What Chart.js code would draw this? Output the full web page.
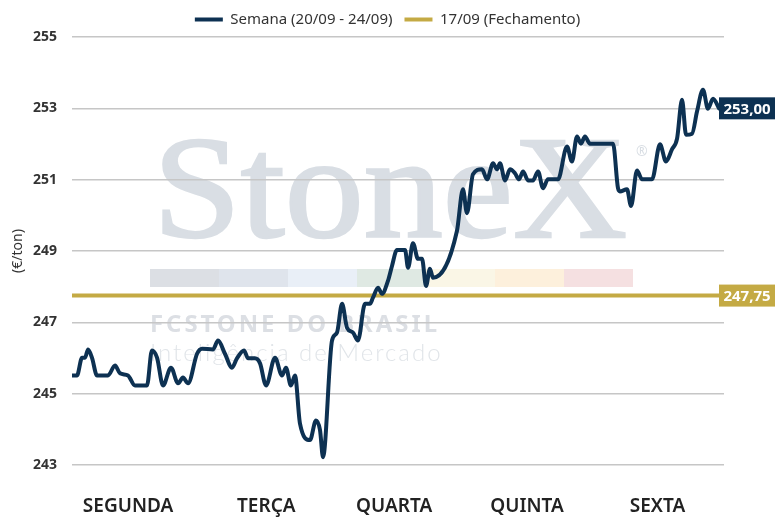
<!DOCTYPE html>
<html>
<head>
<meta charset="utf-8">
<script src="https://cdn.jsdelivr.net/npm/chart.js@4/dist/chart.umd.min.js"></script>
<style>
html, body { margin: 0; padding: 0; background: #fff; }
#wrap { width: 775px; height: 519px; }
</style>
</head>
<body>
<div id="wrap"><canvas id="grafico"></canvas></div>
<script>
// dias da semana no eixo x (posição em dias desde a abertura de segunda)
const dias = ["SEGUNDA", "TERÇA", "QUARTA", "QUINTA", "SEXTA"];
const posDias = [0.43, 1.49, 2.47, 3.49, 4.49];

// semana 20/09 - 24/09 (€/ton)
const semanaPos = [
    0.000, 0.038, 0.077, 0.100, 0.123, 0.153, 0.192, 0.276, 0.330, 0.368,
    0.429, 0.483, 0.575, 0.613, 0.652, 0.698, 0.759, 0.813, 0.851, 0.890,
    0.959, 0.997, 1.081, 1.120, 1.173, 1.227, 1.265, 1.319, 1.350, 1.403,
    1.442, 1.488, 1.557, 1.610, 1.641, 1.679, 1.710, 1.748, 1.825, 1.871,
    1.902, 1.925, 1.994, 2.032, 2.071, 2.109, 2.155, 2.193, 2.247, 2.285,
    2.308, 2.347, 2.377, 2.423, 2.454, 2.492, 2.554, 2.577, 2.615, 2.653,
    2.684, 2.715, 2.745, 2.768, 2.952, 2.998, 3.029, 3.075, 3.144, 3.183,
    3.229, 3.259, 3.282, 3.321, 3.359, 3.397, 3.428, 3.459, 3.497, 3.535,
    3.574, 3.612, 3.650, 3.727, 3.796, 3.834, 3.873, 3.903, 3.934, 3.972,
    4.149, 4.187, 4.202, 4.256, 4.287, 4.333, 4.371, 4.448, 4.509, 4.555,
    4.601, 4.640, 4.678, 4.709, 4.755, 4.793, 4.839, 4.877, 4.916, 4.962
];
const semanaValores = [
    245.51, 245.51, 246.01, 246.01, 246.24, 246.01, 245.51, 245.51, 245.79, 245.57,
    245.51, 245.23, 245.23, 246.21, 246.01, 245.23, 245.73, 245.29, 245.45, 245.29,
    246.12, 246.26, 246.24, 246.49, 246.12, 245.73, 245.99, 246.21, 245.99, 245.99,
    245.85, 245.23, 246.01, 245.51, 245.73, 245.23, 245.51, 244.17, 243.70, 244.25,
    243.98, 243.22, 246.49, 246.71, 247.52, 246.85, 246.71, 246.49, 247.52, 247.52,
    247.69, 247.97, 247.80, 248.16, 248.58, 249.03, 249.03, 248.53, 249.22, 248.78,
    248.78, 248.02, 248.50, 248.25, 249.56, 250.73, 250.06, 251.15, 251.29, 251.01,
    251.46, 251.29, 251.46, 250.98, 251.29, 251.18, 251.01, 251.23, 250.98, 250.98,
    251.23, 250.76, 251.01, 251.01, 251.93, 251.51, 252.21, 252.01, 252.21, 252.01,
    252.01, 250.76, 250.67, 250.73, 250.26, 251.26, 251.01, 251.01, 251.99, 251.51,
    251.85, 252.15, 253.24, 252.26, 252.29, 252.91, 253.52, 252.99, 253.27, 253.00
];

// fechamento 17/09
const fechamento = 247.75;

const corSemana = "#0d3152";
const corFechamento = "#c4aa44";

// marca d'agua
const faixaCores = ["#dcdfe4", "#dfe4ec", "#e9eff7", "#dfe9e3", "#faf6e6", "#fdf0dc", "#f5e0e1"];

const marcaDagua = {
    id: "marcaDagua",
    beforeDraw(chart) {
        const ctx = chart.ctx;
        ctx.save();
        ctx.fillStyle = "#fff";
        ctx.fillRect(0, 0, chart.width, chart.height);

        ctx.fillStyle = "#d9dee4";
        ctx.strokeStyle = "#d9dee4";
        ctx.lineWidth = 2.5;
        ctx.font = '146px "Liberation Serif"';
        ctx.textBaseline = "alphabetic";
        const w = ctx.measureText("StoneX").width;
        ctx.save();
        ctx.translate(153, 237);
        ctx.scale(474 / w, 1);
        ctx.fillText("StoneX", 0, 0);
        ctx.strokeText("StoneX", 0, 0);
        ctx.restore();
        ctx.font = '14px "Noto Sans"';
        ctx.fillText("®", 636, 156);

        for (let i = 0; i < faixaCores.length; i++) {
            ctx.fillStyle = faixaCores[i];
            ctx.fillRect(150 + i * 69, 269, 69, 18);
        }

        ctx.fillStyle = "#dcdfe4";
        ctx.font = 'bold 24px "Noto Sans"';
        ctx.letterSpacing = "3px";
        ctx.fillText("FCSTONE DO BRASIL", 150, 332, 290);
        ctx.letterSpacing = "2px";
        ctx.fillStyle = "#e1e5e9";
        ctx.font = '300 24px Lato';
        ctx.fillText("Inteligência de Mercado", 150, 361, 298);
        ctx.letterSpacing = "0px";
        ctx.restore();
    }
};

// caixinha com o ultimo valor de cada serie
const rotuloFinal = {
    id: "rotuloFinal",
    afterDatasetsDraw(chart) {
        const ctx = chart.ctx;
        chart.data.datasets.forEach(function(ds, i) {
            const meta = chart.getDatasetMeta(i);
            const ultimo = meta.data[meta.data.length - 1];
            const valor = ds.data[ds.data.length - 1].y;
            const x = chart.chartArea.right - 5;
            const w = chart.width - x;
            ctx.save();
            ctx.fillStyle = ds.borderColor;
            ctx.fillRect(x, ultimo.y - 11, w, 22);
            ctx.fillStyle = "#fff";
            ctx.font = 'bold 15px "Noto Sans"';
            ctx.textAlign = "center";
            ctx.textBaseline = "middle";
            ctx.fillText(valor.toFixed(2).replace(".", ","), x + w / 2, ultimo.y + 1);
            ctx.restore();
        });
    }
};

new Chart(document.getElementById("grafico"), {
    type: "line",
    data: {
        datasets: [
            {
                label: "Semana (20/09 - 24/09)",
                data: semanaPos.map((x, i) => ({ x: x, y: semanaValores[i] })),
                borderColor: corSemana,
                backgroundColor: corSemana,
                borderWidth: 4,
                pointRadius: 0,
                cubicInterpolationMode: "monotone",
                borderCapStyle: "round",
                borderJoinStyle: "round"
            },
            {
                label: "17/09 (Fechamento)",
                data: [{ x: 0, y: fechamento }, { x: 5, y: fechamento }],
                borderColor: corFechamento,
                backgroundColor: corFechamento,
                borderWidth: 4,
                pointRadius: 0
            }
        ]
    },
    options: {
        responsive: true,
        maintainAspectRatio: false,
        animation: false,
        layout: { padding: { top: 0, left: 0, right: 0, bottom: 0 } },
        plugins: {
            legend: {
                position: "top",
                labels: {
                    usePointStyle: true,
                    pointStyle: "line",
                    pointStyleWidth: 28,
                    color: "#333",
                    font: { family: "Noto Sans", size: 15 },
                    padding: 12
                }
            },
            tooltip: { enabled: false }
        },
        scales: {
            x: {
                type: "linear",
                min: 0,
                max: 5,
                grid: { display: false },
                border: { display: false },
                afterBuildTicks: function(s) {
                    s.ticks = posDias.map(v => ({ value: v }));
                },
                afterFit: function(s) { s.height = 54; },
                ticks: {
                    autoSkip: false,
                    maxRotation: 0,
                    padding: 22,
                    color: "#222",
                    font: { family: "Noto Sans", size: 19, weight: "600" },
                    callback: function(v, i) { return dias[i]; }
                }
            },
            y: {
                min: 243,
                max: 255,
                afterFit: function(s) { s.width = 72; },
                grid: { color: "#c6c6c6", lineWidth: 1.5, drawTicks: false },
                border: { display: false },
                ticks: {
                    stepSize: 2,
                    padding: 15,
                    color: "#333",
                    font: { family: "Noto Sans", size: 14, weight: "bold" }
                },
                title: {
                    display: true,
                    text: "(€/ton)",
                    color: "#333",
                    font: { family: "Noto Sans", size: 14 },
                    padding: { top: 10, bottom: 0 }
                }
            },
            y2: {
                position: "right",
                afterFit: function(s) { s.width = 51; },
                grid: { display: false },
                border: { display: false },
                ticks: { display: false }
            }
        }
    },
    plugins: [marcaDagua, rotuloFinal]
});
</script>
</body>
</html>
